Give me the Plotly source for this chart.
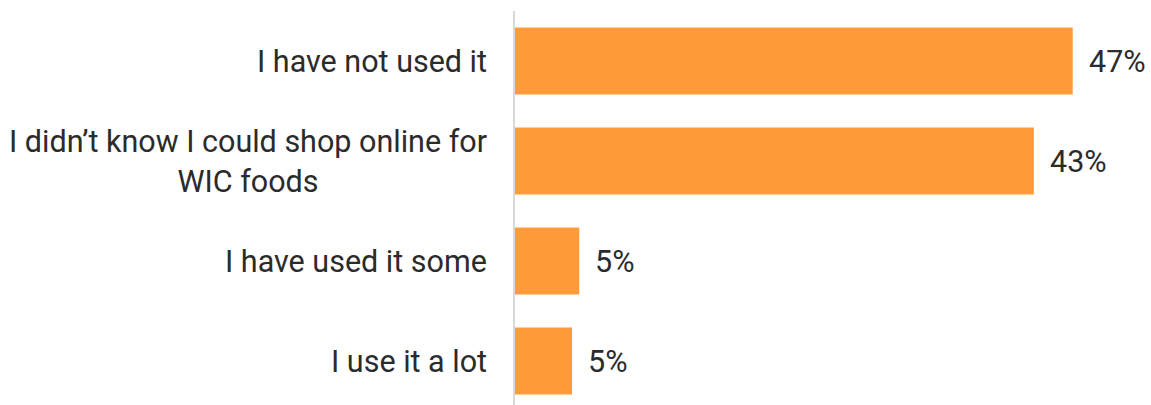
import plotly.graph_objects as go

# Survey responses: use of online shopping for WIC foods
categories = [
    "I have not used it",
    "I didn\u2019t know I could shop online for<br>WIC foods",
    "I have used it some",
    "I use it a lot",
]
shares = [46.7, 43.45, 5.38, 4.78]

BAR_COLOR = "#FF9B38"
TEXT_COLOR = "#2B2B2B"
FONT = "Roboto"
FONT_SIZE = 30.5

positions = list(range(len(categories)))

fig = go.Figure(
    go.Bar(
        x=shares,
        y=positions,
        orientation="h",
        marker=dict(color=BAR_COLOR, line=dict(width=0)),
        width=0.67,
        hoverinfo="skip",
    )
)

annotations = []
for pos, label, value in zip(positions, categories, shares):
    # category label to the left of the axis, lines centred
    annotations.append(dict(
        x=0, xref="paper", xanchor="right", xshift=-26,
        y=pos, yref="y", yanchor="middle",
        text=label, align="center", showarrow=False,
        font=dict(family=FONT, size=FONT_SIZE, color=TEXT_COLOR),
    ))
    # value label just past the bar end
    annotations.append(dict(
        x=value, xref="x", xanchor="left", xshift=14,
        y=pos, yref="y", yanchor="middle",
        text=f"{value:.0f}%", showarrow=False,
        font=dict(family=FONT, size=FONT_SIZE, color=TEXT_COLOR),
    ))

fig.update_layout(
    width=1151,
    height=405,
    margin=dict(l=515, r=15, t=11, b=0),
    paper_bgcolor="white",
    plot_bgcolor="white",
    showlegend=False,
    annotations=annotations,
    xaxis=dict(
        range=[0, 52],
        visible=False,
        showgrid=False,
        zeroline=False,
    ),
    yaxis=dict(
        range=[3.44, -0.5],
        showticklabels=False,
        showgrid=False,
        zeroline=False,
        showline=True,
        linecolor="#D9D9D9",
        linewidth=2,
        ticks="",
    ),
)

fig.write_html("out.html")
